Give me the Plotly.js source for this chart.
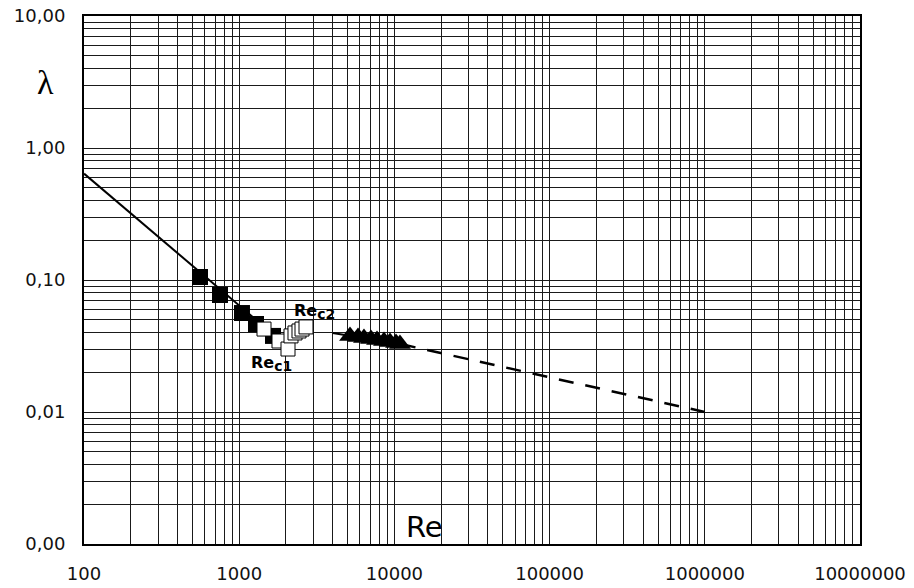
<!DOCTYPE html>
<html><head><meta charset="utf-8">
<script src="https://cdn.plot.ly/plotly-3.0.1.min.js"></script>
<style>html,body{margin:0;padding:0;background:#fff}#chart{width:914px;height:588px}</style>
</head><body><div id="chart"></div>
<script>
// Laminar line (solid)
const lamRe = [100, 1800];
const lamLambda = [0.64, 0.0356];
// Turbulent (Blasius) line: solid part and dashed extrapolation
const turbRe = [4000, 11000];
const turbLambda = [0.0397, 0.0327];
const extRe = [11000, 1000000];
const extLambda = [0.0327, 0.0100];
// Measured points
const blackRe = [559, 752, 1042, 1283, 1651];
const blackLambda = [0.1054, 0.0770, 0.0562, 0.0464, 0.0377];
const whiteRe = [1445, 1805, 2063, 2157, 2288, 2428, 2539, 2694];
const whiteLambda = [0.0425, 0.0345, 0.0300, 0.0377, 0.0397, 0.0411, 0.0425, 0.0441];
const triRe = [5176, 5830, 6368, 7063, 7724, 8570, 9370, 10243, 10860];
const triLambda = [0.0377, 0.0370, 0.0364, 0.0357, 0.0351, 0.0345, 0.0339, 0.0333, 0.0327];
// Axes ticks
const xDecades = [100, 1000, 10000, 100000, 1000000, 10000000];
const xDecadeLabels = ["100", "1000", "10000", "100000", "1000000", "10000000"];
const yDecades = [0.001, 0.01, 0.1, 1, 10];
const yDecadeLabels = ["0,00", "0,01", "0,10", "1,00", "10,00"];
const minorMult = [2, 3, 4, 5, 6, 7, 8, 9];

function gridTicks(decades, labels) {
  const vals = [], txt = [];
  decades.forEach((d, i) => {
    vals.push(d); txt.push(labels[i]);
    if (i < decades.length - 1) minorMult.forEach(m => { vals.push(d * m); txt.push(""); });
  });
  return {vals, txt};
}
const xt = gridTicks(xDecades, xDecadeLabels);
const yt = gridTicks(yDecades, yDecadeLabels);

const traces = [
  {x: lamRe, y: lamLambda, mode: "lines", line: {color: "#000", width: 2}, hoverinfo: "skip"},
  {x: turbRe, y: turbLambda, mode: "lines", line: {color: "#000", width: 2}, hoverinfo: "skip"},
  {x: extRe, y: extLambda, mode: "lines", line: {color: "#000", width: 2.5, dash: "15px,12px"}, hoverinfo: "skip"},
  {x: blackRe, y: blackLambda, mode: "markers", marker: {symbol: "square", size: 16, color: "#000", line: {color: "#000", width: 0}}},
  {x: whiteRe, y: whiteLambda, mode: "markers", marker: {symbol: "square", size: 14, color: "#fff", line: {color: "#000", width: 1}}},
  {x: triRe, y: triLambda, mode: "markers", marker: {symbol: "triangle-up", size: 19, color: "#000", line: {width: 0}}}
];

const axisFont = {family: "DejaVu Sans, Verdana, sans-serif", size: 18, color: "#111"};
const lblFont = {family: "DejaVu Sans", size: 16, color: "#000", weight: "bold"};
const layout = {
  width: 914, height: 588,
  margin: {l: 84, r: 54, t: 16, b: 44, pad: 0},
  paper_bgcolor: "#fff", plot_bgcolor: "#fff",
  showlegend: false,
  xaxis: {
    type: "log", range: [2, 7], tickmode: "array", tickvals: xt.vals, ticktext: xt.txt,
    showgrid: true, gridcolor: "#1a1a1a", gridwidth: 1, zeroline: false,
    showline: true, linecolor: "#000", linewidth: 2, mirror: true,
    ticks: "", tickfont: axisFont, ticklabelstandoff: 12
  },
  yaxis: {
    type: "log", range: [-3, 1], tickmode: "array", tickvals: yt.vals, ticktext: yt.txt,
    showgrid: true, gridcolor: "#1a1a1a", gridwidth: 1, zeroline: false,
    showline: true, linecolor: "#000", linewidth: 2, mirror: true,
    ticks: "", tickfont: axisFont, ticklabelstandoff: 13
  },
  annotations: [
    {xref: "x", yref: "y", x: 3.485, y: -1.235, text: "Re<sub><span style='font-size:14px'>c2</span></sub>", showarrow: false,
     xanchor: "center", yanchor: "middle", font: lblFont},
    {xref: "x", yref: "y", x: 3.205, y: -1.629, text: "Re<sub><span style='font-size:14px'>c1</span></sub>", showarrow: false,
     xanchor: "center", yanchor: "middle", font: lblFont},
    {xref: "x", yref: "y", x: 4.197, y: -2.871, text: "Re", showarrow: false,
     xanchor: "center", yanchor: "middle", font: {family: "DejaVu Sans", size: 29, color: "#000"}},
    {xref: "paper", yref: "paper", x: -0.049, y: 0.875, text: "λ", showarrow: false,
     xanchor: "center", yanchor: "middle", font: {family: "Liberation Serif", size: 34, color: "#000"}}
  ]
};
Plotly.newPlot("chart", traces, layout, {displayModeBar: false, staticPlot: true});
</script></body></html>
